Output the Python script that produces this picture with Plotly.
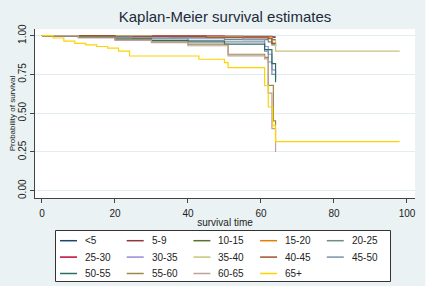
import plotly.graph_objects as go

groups = ["<5", "5-9", "10-15", "15-20", "20-25", "25-30", "30-35",
          "35-40", "40-45", "45-50", "50-55", "55-60", "60-65", "65+"]
colors = ["#1a476f", "#90353b", "#55752f", "#e37e00", "#6e8e84", "#c10534",
          "#938dd2", "#cac27e", "#a0522d", "#7b92a8", "#2d6d66", "#9c8847",
          "#bfa19c", "#ffd200"]

t_lt5 = [0, 20, 45, 63, 64]
s_lt5 = [1, 0.997, 0.995, 0.99, 0.99]
t_5_9 = [0, 30, 55, 63, 64]
s_5_9 = [1, 0.996, 0.994, 0.99, 0.99]
t_10_15 = [0, 15, 35, 55, 63, 64]
s_10_15 = [1, 0.995, 0.99, 0.985, 0.975, 0.975]
t_15_20 = [0, 20, 40, 62, 63, 64]
s_15_20 = [1, 0.995, 0.99, 0.985, 0.95, 0.93]
t_20_25 = [0, 15, 30, 50, 62, 63, 64]
s_20_25 = [1, 0.99, 0.985, 0.975, 0.96, 0.94, 0.94]
t_25_30 = [0, 25, 50, 63, 64]
s_25_30 = [1, 0.997, 0.993, 0.97, 0.97]
t_30_35 = [0, 20, 40, 55, 61, 62, 63, 64]
s_30_35 = [1, 0.99, 0.985, 0.975, 0.93, 0.88, 0.78, 0.76]
t_35_40 = [0, 30, 55, 63, 64, 98]
s_35_40 = [1, 0.995, 0.99, 0.97, 0.90, 0.90]
t_40_45 = [0, 20, 45, 62, 63, 64]
s_40_45 = [1, 0.995, 0.99, 0.98, 0.95, 0.95]
t_45_50 = [0, 10, 25, 40, 50, 61, 62, 63, 64]
s_45_50 = [1, 0.99, 0.98, 0.97, 0.96, 0.90, 0.83, 0.75, 0.72]
t_50_55 = [0, 10, 20, 30, 40, 50, 61, 63, 64]
s_50_55 = [1, 0.99, 0.98, 0.97, 0.96, 0.946, 0.91, 0.82, 0.70]
t_55_60 = [0, 10, 20, 30, 40, 51, 61, 62, 63.4, 64]
s_55_60 = [1, 0.99, 0.975, 0.96, 0.945, 0.88, 0.86, 0.68, 0.45, 0.42]
t_60_65 = [0, 10, 20, 30, 40, 51, 61, 62, 63, 64]
s_60_65 = [1, 0.985, 0.97, 0.955, 0.935, 0.87, 0.85, 0.63, 0.40, 0.25]
t_65p = [0, 3, 6, 9, 12, 15, 18, 21, 24, 41, 43, 49, 50, 51, 61, 62, 63.2, 64, 98]
s_65p = [1, 0.985, 0.965, 0.95, 0.94, 0.93, 0.92, 0.90, 0.869, 0.869, 0.848,
         0.848, 0.826, 0.794, 0.677, 0.54, 0.42, 0.316, 0.316]

times = [t_lt5, t_5_9, t_10_15, t_15_20, t_20_25, t_25_30, t_30_35,
         t_35_40, t_40_45, t_45_50, t_50_55, t_55_60, t_60_65, t_65p]
survs = [s_lt5, s_5_9, s_10_15, s_15_20, s_20_25, s_25_30, s_30_35,
         s_35_40, s_40_45, s_45_50, s_50_55, s_55_60, s_60_65, s_65p]

y_ticks = [0, 0.25, 0.5, 0.75, 1.0]
y_ticklabels = ["0.00", "0.25", "0.50", "0.75", "1.00"]
x_ticks = [0, 20, 40, 60, 80, 100]

bg = "#eaf2f3"
font = "Liberation Sans, Arial, sans-serif"

# plot-area geometry in pixels (for positioning layout items)
W, H = 440, 286
ML, MR, MT, MB = 35, 25, 29, 88
PW, PH = W - ML - MR, H - MT - MB


def px(x):
    return (x - ML) / PW


def py(y):
    return (H - MB - y) / PH


fig = go.Figure()
for g, c, t, s in zip(groups, colors, times, survs):
    fig.add_trace(go.Scatter(x=t, y=s, mode="lines", name=g, showlegend=False,
                             line=dict(color=c, width=1.2, shape="hv")))

shapes = [
    dict(type="rect", xref="paper", yref="paper", x0=px(425.5), x1=px(445),
         y0=py(300), y1=py(-10), fillcolor="white", line=dict(width=0), layer="above"),
    dict(type="rect", xref="paper", yref="paper", x0=px(55.5), x1=px(390.5),
         y0=py(281.5), y1=py(230.5), fillcolor="white",
         line=dict(color="#333333", width=1), layer="above"),
]
annotations = []
col_w, row_h = 66.7, 16.4
for i, (g, c) in enumerate(zip(groups, colors)):
    r, k = divmod(i, 5)
    yy = 240.7 + r * row_h
    x0 = 60 + k * col_w
    shapes.append(dict(type="line", xref="paper", yref="paper",
                       x0=px(x0), x1=px(x0 + 17), y0=py(yy), y1=py(yy),
                       line=dict(color=c, width=1.5), layer="above"))
    annotations.append(dict(text=g, xref="paper", yref="paper", x=px(x0 + 23), y=py(yy),
                            xanchor="left", yanchor="middle", showarrow=False,
                            font=dict(size=10, color="#222222")))

fig.update_layout(
    width=W, height=H,
    margin=dict(l=ML, r=MR, t=MT, b=MB, autoexpand=False),
    paper_bgcolor=bg, plot_bgcolor="white",
    font=dict(family=font, size=10, color="#222222"),
    title=dict(text="Kaplan-Meier survival estimates", x=0.5, xanchor="center",
               xref="paper", y=1 - 17 / 286, yanchor="middle",
               font=dict(size=15, color="#1e2a3a")),
    showlegend=False,
    xaxis=dict(range=[-1.9, 102.2], tickvals=x_ticks, showgrid=False, zeroline=False,
               showline=True, linecolor="#444444", linewidth=1, ticks="outside",
               ticklen=4, tickcolor="#444444", tickfont=dict(size=10), automargin=False,
               ticklabelstandoff=2,
               title=dict(text="survival time", font=dict(size=10), standoff=0)),
    yaxis=dict(range=[-0.047, 1.043], tickvals=y_ticks, ticktext=y_ticklabels,
               tickangle=-90, showgrid=True, gridcolor="#e3ecee", gridwidth=1,
               zeroline=False, showline=True, linecolor="#444444", linewidth=1,
               ticks="outside", ticklen=4, tickcolor="#444444", tickfont=dict(size=10),
               automargin=False,
               title=dict(text="Probability of survival", font=dict(size=8), standoff=0)),
    shapes=shapes,
    annotations=annotations,
)

fig.write_html("out.html", config={"displayModeBar": False},
               post_script="document.body.style.margin='0';"
                           "document.documentElement.style.margin='0';"
                           "document.body.style.overflow='hidden';")
